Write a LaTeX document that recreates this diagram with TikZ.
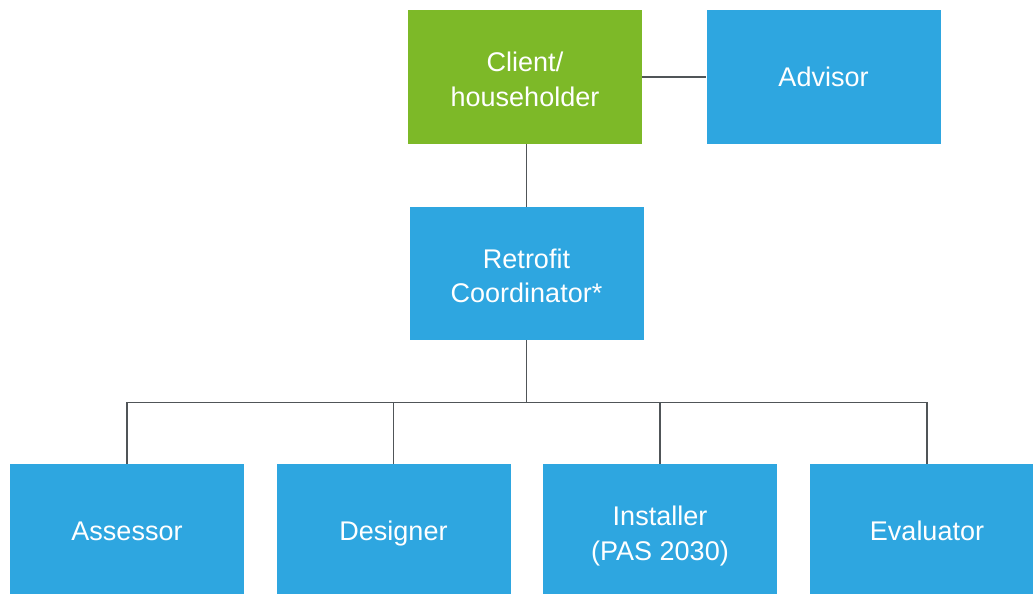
\documentclass[tikz,border=0pt]{standalone}
\usepackage{fontspec}
\setmainfont{Liberation Sans}
\definecolor{rolegreen}{HTML}{7DB928}
\definecolor{roleblue}{HTML}{2EA6E0}
\definecolor{linkgray}{HTML}{505558}
\begin{document}
\begin{tikzpicture}[x=1pt,y=-1pt,
  role/.style={rectangle, fill=roleblue, draw=none, minimum width=234pt, minimum height=134pt,
    inner sep=0pt, align=center, text=white, font=\fontsize{27}{34.5}\selectfont},
  oneline/.style={text height=19.5pt, text depth=0pt},
  twoline/.style={text height=63pt, text depth=5pt},
  client/.style={role, fill=rolegreen},
  link/.style={draw=linkgray, line width=1.2pt}]
  \useasboundingbox (0,0) rectangle (1033,594);
  \clip (0,0) rectangle (1033,594);

  % top row
  \node[client, twoline] (client) at (525,77) {Client/\\householder};
  \node[role, oneline] (advisor) at (823.5,77) {Advisor};
  % coordinator
  \node[role, twoline, minimum height=133pt] (coord) at (526.5,273.5) {Retrofit\\Coordinator*};
  % bottom row
  \node[role, oneline] (assessor)  at (127,531)   {Assessor};
  \node[role, oneline] (designer)  at (393.5,531) {Designer};
  \node[role, twoline] (installer) at (660,531)   {Installer\\(PAS 2030)};
  \node[role, oneline] (evaluator) at (927,531)   {Evaluator};

  \coordinate (bus) at (526.5,402.5);

  % connectors
  \draw[link] (client.east) -- (advisor.west);
  \draw[link] (client.south -| coord.north) -- (coord.north);
  \draw[link] (coord.south) -- (bus);
  \draw[link] (assessor.north) -- (assessor.north |- bus) -- (evaluator.north |- bus) -- (evaluator.north);
  \draw[link] (designer.north) -- (designer.north |- bus);
  \draw[link] (installer.north) -- (installer.north |- bus);
\end{tikzpicture}
\end{document}
